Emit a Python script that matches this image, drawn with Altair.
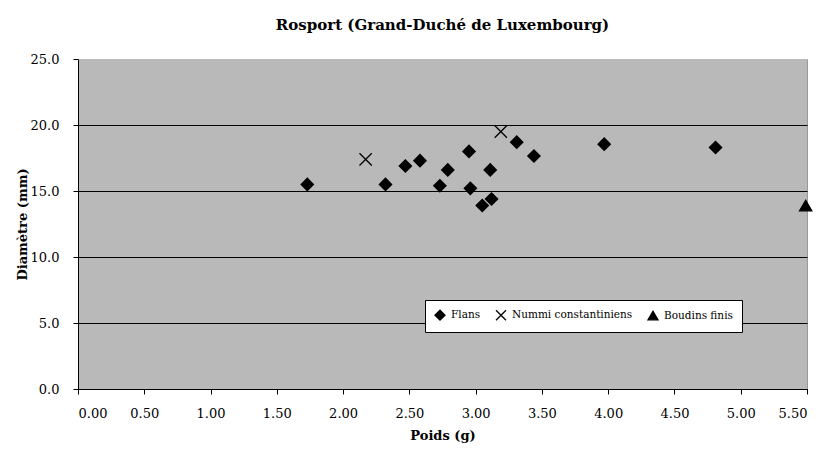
import altair as alt
import pandas as pd

flans_x = [1.73, 2.32, 2.47, 2.58, 2.73, 2.79, 2.95, 2.96, 3.05, 3.12, 3.11, 3.31, 3.44, 3.97, 4.81]
flans_y = [15.5, 15.5, 16.9, 17.3, 15.4, 16.6, 18.0, 15.2, 13.9, 14.4, 16.6, 18.7, 17.65, 18.55, 18.3]
nummi_x = [2.17, 3.19]
nummi_y = [17.4, 19.5]
boudins_x = [5.49]
boudins_y = [13.9]

series = ["Flans", "Nummi constantiniens", "Boudins finis"]

rows = []
for xs, ys, s in [(flans_x, flans_y, series[0]), (nummi_x, nummi_y, series[1]), (boudins_x, boudins_y, series[2])]:
    for a, b in zip(xs, ys):
        rows.append({"poids": a, "diam": b, "serie": s})
df = pd.DataFrame(rows)

FONT = "DejaVu Serif"
xpath = "M-1,-1L1,1M-1,1L1,-1"

leg = alt.Legend(orient="none", legendX=347, legendY=241, direction="horizontal",
                 fillColor="white", strokeColor="black", padding=9,
                 labelFont=FONT, labelFontSize=10.5, labelColor="black",
                 symbolStrokeWidth=1.3,
                 symbolSize=100, columnPadding=12, labelOffset=5)

chart = alt.Chart(df).mark_point(
    filled=False, strokeWidth=1.3, size=150, opacity=1
).encode(
    x=alt.X("poids:Q", title="Poids (g)",
            scale=alt.Scale(domain=[0, 5.5], nice=False, zero=True),
            axis=alt.Axis(values=[i * 0.5 for i in range(12)], format=".2f", grid=False)),
    y=alt.Y("diam:Q", title="Diamètre (mm)",
            scale=alt.Scale(domain=[0, 25], nice=False),
            axis=alt.Axis(values=[0, 5, 10, 15, 20, 25], format=".1f", grid=True,
                          gridColor=alt.condition("datum.value == 25", alt.value("#b9b9b9"), alt.value("black")))),
    shape=alt.Shape("serie:N", title=None,
                    scale=alt.Scale(domain=series, range=["diamond", xpath, "triangle-up"]),
                    legend=leg),
    fill=alt.Fill("serie:N", title=None,
                  scale=alt.Scale(domain=series, range=["black", "transparent", "black"]),
                  legend=leg),
    stroke=alt.Stroke("serie:N", title=None,
                      scale=alt.Scale(domain=series, range=["black", "black", "black"]),
                      legend=leg),
).properties(
    width=729, height=330,
    title=alt.TitleParams("Rosport (Grand-Duché de Luxembourg)", font=FONT, fontSize=15,
                          fontWeight="bold", color="black", offset=20),
    autosize=alt.AutoSizeParams(type="none"),
    padding={"left": 70, "top": 51, "right": 9, "bottom": 58},
).configure_view(
    fill="#b9b9b9", stroke="#999999", strokeWidth=1
).configure_axis(
    labelFont=FONT, labelFontSize=13, labelColor="black",
    titleFont=FONT, titleFontSize=13, titleFontWeight="bold", titleColor="black",
    domainColor="black", tickColor="black", tickSize=5, gridWidth=1,
).configure_axisX(
    labelPadding=13, titlePadding=9,
).configure_axisY(
    labelPadding=14, titlePadding=1,
)

chart.save("out.html", embed_options={"renderer": "svg", "actions": False})
